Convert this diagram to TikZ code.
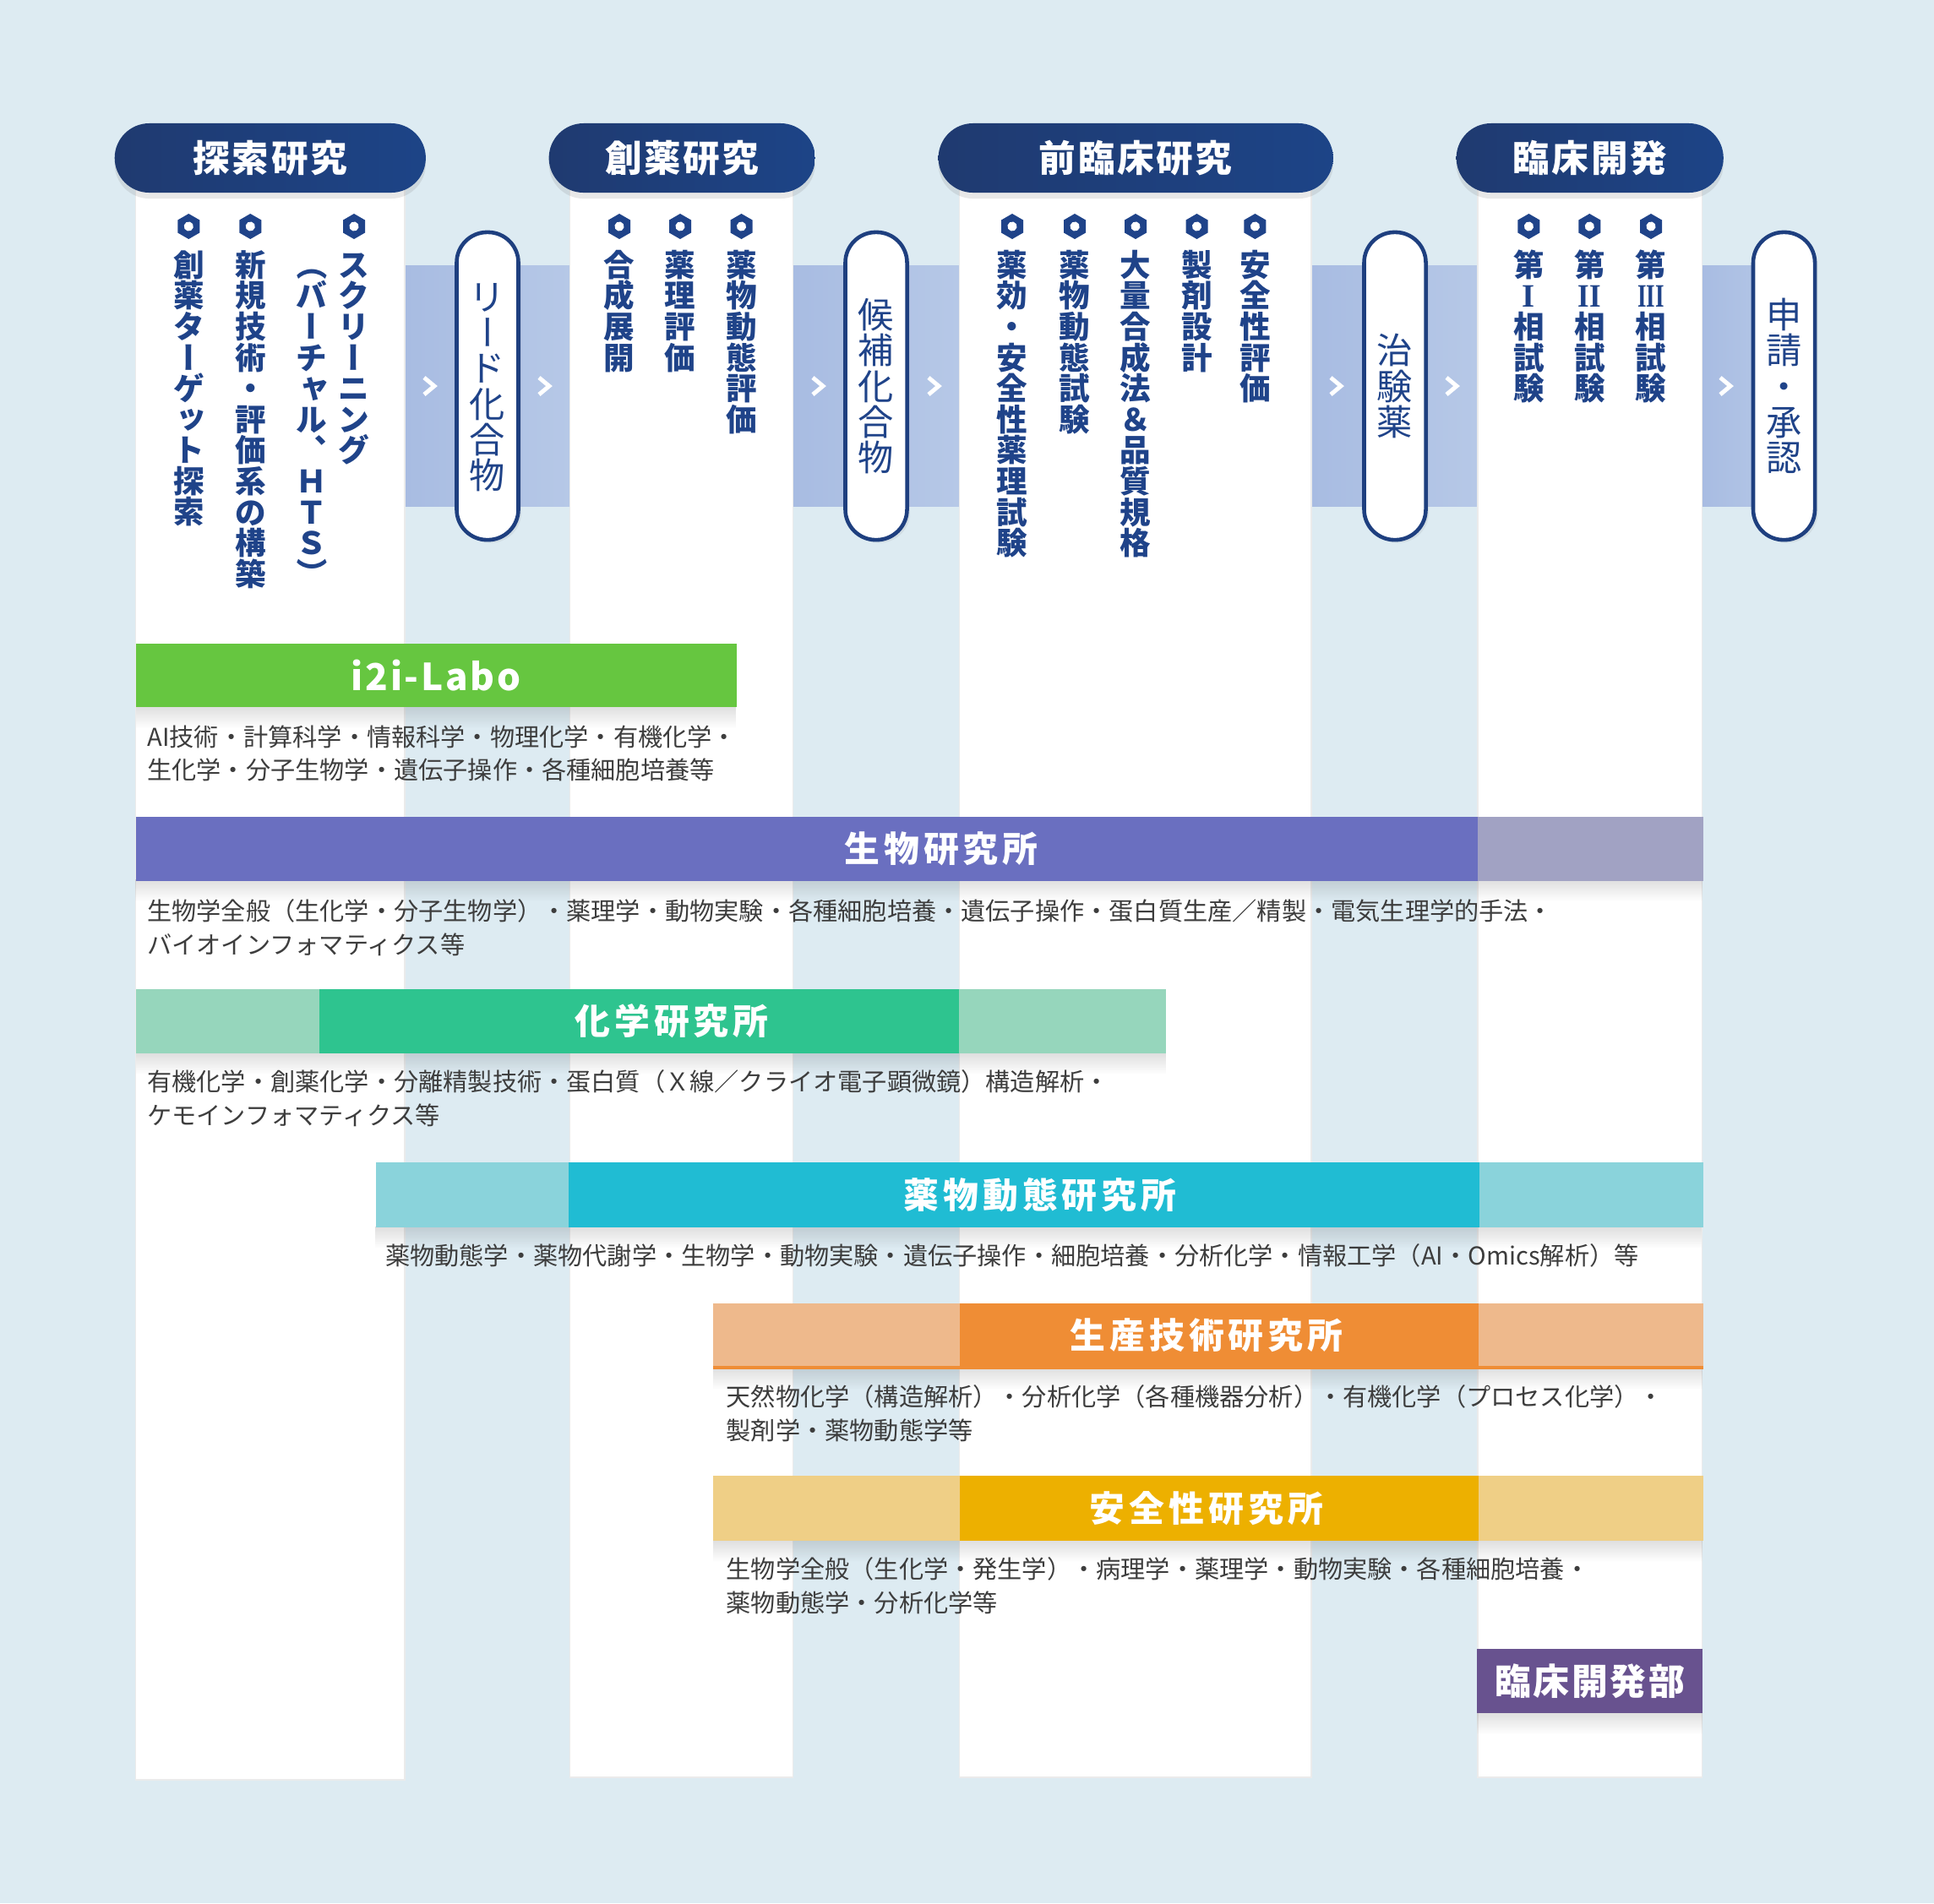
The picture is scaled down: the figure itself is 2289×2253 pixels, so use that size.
\documentclass[tikz,border=0pt]{standalone}
\usepackage{fontspec}
\usepackage{graphicx}
\usepackage{tikz}
\usetikzlibrary{shapes.geometric,shadows,fadings}

\setmainfont{Noto Sans CJK JP}
\newfontfamily\wideFont[LetterSpace=12]{Noto Sans CJK JP}
\newfontfamily\headFont[LetterSpace=6]{Noto Sans CJK JP}
\newfontfamily\romanFont{Liberation Serif}

% vertical (tategaki) stacking, one em cell per character
\newcommand\tatecell[1]{\hbox to 1em{\hss\vrule height .88em depth .12em width 0pt\relax#1\hss}}
\def\tateend{\tateend}
\newcommand\tate[1]{\vbox{\offinterlineskip\tatestep#1\tateend}}
\def\tatestep#1{\ifx#1\tateend\else\tatecell{#1}\expandafter\tatestep\fi}
\newcommand\tatebox[1]{\hbox to 1em{\vrule height .88em depth .12em width 0pt\relax#1\hss}}
\def\tbar{\rotatebox[origin=c]{90}{\tatebox{ー}}}
\def\topen{\rotatebox[origin=c]{-90}{\tatebox{（}}}
\def\tclose{\rotatebox[origin=c]{-90}{\tatebox{）}}}
\newcommand\tsmall[1]{\tatebox{\kern.1em\raisebox{.1em}{\makebox[0pt][l]{#1}}}}
\def\ttu{\tsmall{ッ}}
\def\tya{\tsmall{ャ}}
\def\rI{{\romanFont\bfseries\fontsize{11}{11}\selectfont I}}
\def\rII{\scalebox{.9}[1]{\romanFont\bfseries\fontsize{11}{11}\selectfont II}}
\def\rIII{\scalebox{.7}[1]{\romanFont\bfseries\fontsize{11}{11}\selectfont III}}

\definecolor{pagebg}{HTML}{DDEBF2}
\definecolor{navy}{HTML}{1E3F7F}
\definecolor{navyleft}{HTML}{1F3A70}
\definecolor{navyright}{HTML}{1D4487}
\definecolor{itemblue}{HTML}{1F4389}
\definecolor{bandleft}{HTML}{A8BCE2}
\definecolor{bandright}{HTML}{B6C8E7}
\definecolor{bodygray}{HTML}{3D3D3D}
\definecolor{labogreen}{HTML}{66C640}
\definecolor{biodark}{HTML}{6A6FC0}
\definecolor{biolight}{HTML}{A1A2C3}
\definecolor{chemdark}{HTML}{2EC48F}
\definecolor{chemlight}{HTML}{96D6BC}
\definecolor{pkdark}{HTML}{20BCD3}
\definecolor{pklight}{HTML}{8AD3DB}
\definecolor{proddark}{HTML}{EF8D35}
\definecolor{prodlight}{HTML}{EEB98C}
\definecolor{safedark}{HTML}{EDB000}
\definecolor{safelight}{HTML}{EFCF86}
\definecolor{clinpurple}{HTML}{68528F}

\begin{document}
\begin{tikzpicture}[x=0.01cm,y=-0.01cm,
    phase/.style={left color=navyleft,right color=navyright,rounded corners=0.41cm,
      minimum height=0.82cm,text=white,
      font=\headFont\bfseries\fontsize{12.4}{14}\selectfont,
      drop shadow={opacity=0.18,shadow xshift=0pt,shadow yshift=-2pt}},
    column/.style={fill=white,draw=black!8,line width=0.4pt},
    flowband/.style={left color=bandleft,right color=bandright},
    milestone/.style={draw=navy,line width=1.3pt,fill=white,inner sep=0pt,
      rounded corners=0.36cm,minimum width=0.73cm,minimum height=3.64cm,
      text=itemblue,font=\fontsize{12}{12}\selectfont,
      drop shadow={opacity=0.12,shadow xshift=1pt,shadow yshift=-1pt}},
    chev/.style={draw=white,line width=1.4pt},
    hexbullet/.style={regular polygon,regular polygon sides=6,rotate=30,
      fill=itemblue,minimum size=0.3cm,inner sep=0pt,
      path picture={\fill[white] (path picture bounding box.center) circle (1.6pt);}},
    item/.style={anchor=north,inner sep=0pt,text=itemblue,
      font=\bfseries\fontsize{10.4}{10.4}\selectfont},
    bartitle/.style={text=white,inner sep=0pt,
      font=\wideFont\bfseries\fontsize{11.9}{14}\selectfont},
    barshade/.style={fill=black,opacity=0.13,path fading=south},
    note/.style={anchor=north west,inner sep=0pt,align=left,text=bodygray,
      font=\fontsize{8.3}{11.2}\selectfont}]

  \useasboundingbox (0,0) rectangle (2289,2253);
  \fill[pagebg] (0,0) rectangle (2289,2253);

  % flow bands between the phases
  \shade[flowband] (478,314) rectangle (675,599);
  \shade[flowband] (938,314) rectangle (1136,599);
  \shade[flowband] (1551,314) rectangle (1749,599);
  \shade[flowband] (2014,314) rectangle (2111,599);

  % phase columns
  \draw[column] (160.6,187) rectangle (478.8,2107);
  \draw[column] (674.4,187) rectangle (938.6,2104);
  \draw[column] (1135.7,187) rectangle (1551.8,2104);
  \draw[column] (1748.8,187) rectangle (2014.5,2104);

  % phase headers
  \node[phase,minimum width=3.68cm] (explore) at (319.8,187) {探索研究};
  \node[phase,minimum width=3.15cm] (discovery) at (807.2,187) {創薬研究};
  \node[phase,minimum width=4.67cm] (preclin) at (1344.2,187) {前臨床研究};
  \node[phase,minimum width=3.16cm] (clinical) at (1881.7,187) {臨床開発};

  % milestones
  \node[milestone] (lead) at (577,457) {\tate{リ\tbar ド化合物}};
  \node[milestone] (cand) at (1037,457) {\tate{候補化合物}};
  \node[milestone] (trial) at (1651,457) {\tate{治験薬}};
  \node[milestone] (filing) at (2111.5,457) {\tate{申請・承認}};

  \foreach \cx in {508,644,968,1105,1581,1718,2042}
    \draw[chev] (\cx-6,447) -- (\cx+6,457) -- (\cx-6,467);

  % bullets and items
  \foreach \bx [count=\i] in {223.3,296.3,419,733,805,877.5,1198,1272,1344,
      1416.5,1485.4,1809.4,1881.3,1954}
    \node[hexbullet] (bullet\i) at (\bx,268) {};

  \node[item] (target) at (223.3,294.5) {\tate{創薬タ\tbar ゲ\ttu ト探索}};
  \node[item] (assay) at (296.3,294.5) {\tate{新規技術・評価系の構築}};
  \node[item] (screen) at (419,294.5) {\tate{スクリ\tbar ニング}};
  \node[item] (screenb) at (369,294.5) {\tate{\topen バ\tbar チ\tya ル︑ＨＴＳ\tclose}};
  \node[item] (synth) at (733,294.5) {\tate{合成展開}};
  \node[item] (pharm) at (805,294.5) {\tate{薬理評価}};
  \node[item] (pkeval) at (877.5,294.5) {\tate{薬物動態評価}};
  \node[item] (effic) at (1198,294.5) {\tate{薬効・安全性薬理試験}};
  \node[item] (pktest) at (1272,294.5) {\tate{薬物動態試験}};
  \node[item] (scaleup) at (1344,294.5) {\tate{大量合成法＆品質規格}};
  \node[item] (formul) at (1416.5,294.5) {\tate{製剤設計}};
  \node[item] (safety) at (1485.4,294.5) {\tate{安全性評価}};
  \node[item] (phaseone) at (1809.4,294.5) {\tate{第\rI 相試験}};
  \node[item] (phasetwo) at (1881.3,294.5) {\tate{第\rII 相試験}};
  \node[item] (phasethree) at (1954,294.5) {\tate{第\rIII 相試験}};

  % i2i-Labo
  \fill[barshade] (160.6,836) rectangle (871.5,862);
  \fill[labogreen] (160.6,762) rectangle (871.5,837);
  \node[bartitle,font=\headFont\bfseries\fontsize{12.5}{14}\selectfont] (labo) at (516,799.5) {i2i-Labo};
  \node[note] (labonote) at (173.7,858) {AI技術・計算科学・情報科学・物理化学・有機化学・\\生化学・分子生物学・遺伝子操作・各種細胞培養等};

  % biology
  \fill[barshade] (160.6,1041) rectangle (2016,1067);
  \fill[biodark] (160.6,966.5) rectangle (1749,1042.5);
  \fill[biolight] (1749,966.5) rectangle (2016,1042.5);
  \node[bartitle] (bio) at (1114,1004.5) {生物研究所};
  \node[note] (bionote) at (173.7,1064) {生物学全般（生化学・分子生物学）・薬理学・動物実験・各種細胞培養・遺伝子操作・蛋白質生産／精製・電気生理学的手法・\\バイオインフォマティクス等};

  % chemistry
  \fill[barshade] (160.6,1246) rectangle (1379.5,1272);
  \fill[chemlight] (160.6,1171) rectangle (378,1247);
  \fill[chemdark] (378,1171) rectangle (1135,1247);
  \fill[chemlight] (1135,1171) rectangle (1379.5,1247);
  \node[bartitle] (chem) at (795,1209) {化学研究所};
  \node[note] (chemnote) at (173.7,1266) {有機化学・創薬化学・分離精製技術・蛋白質（Ｘ線／クライオ電子顕微鏡）構造解析・\\ケモインフォマティクス等};

  % pharmacokinetics
  \fill[barshade] (445,1452) rectangle (2016,1478);
  \fill[pklight] (445,1376) rectangle (673,1452.7);
  \fill[pkdark] (673,1376) rectangle (1751,1452.7);
  \fill[pklight] (1751,1376) rectangle (2016,1452.7);
  \node[bartitle] (pk) at (1231,1414.3) {薬物動態研究所};
  \node[note] (pknote) at (455.5,1472) {薬物動態学・薬物代謝学・生物学・動物実験・遺伝子操作・細胞培養・分析化学・情報工学（AI・Omics解析）等};

  % process technology
  \fill[barshade] (844,1619) rectangle (2016,1645);
  \fill[prodlight] (844,1542.7) rectangle (1136,1620);
  \fill[proddark] (1136,1542.7) rectangle (1750,1620);
  \fill[prodlight] (1750,1542.7) rectangle (2016,1620);
  \fill[proddark] (844,1617) rectangle (2016,1620.5);
  \node[bartitle] (prod) at (1428,1581) {生産技術研究所};
  \node[note] (prodnote) at (859,1639) {天然物化学（構造解析）・分析化学（各種機器分析）・有機化学（プロセス化学）・\\製剤学・薬物動態学等};

  % safety
  \fill[barshade] (844,1823) rectangle (2016,1849);
  \fill[safelight] (844,1747.3) rectangle (1136,1824);
  \fill[safedark] (1136,1747.3) rectangle (1750,1824);
  \fill[safelight] (1750,1747.3) rectangle (2016,1824);
  \node[bartitle] (safe) at (1428,1785.6) {安全性研究所};
  \node[note] (safenote) at (859,1843) {生物学全般（生化学・発生学）・病理学・薬理学・動物実験・各種細胞培養・\\薬物動態学・分析化学等};

  % clinical development
  \fill[barshade] (1748.3,2027) rectangle (2015,2053);
  \fill[clinpurple] (1748.3,1951.7) rectangle (2015,2028.3);
  \node[bartitle,font=\headFont\bfseries\fontsize{12.2}{14}\selectfont] (clindept) at (1881.7,1990) {臨床開発部};
\end{tikzpicture}
\end{document}
